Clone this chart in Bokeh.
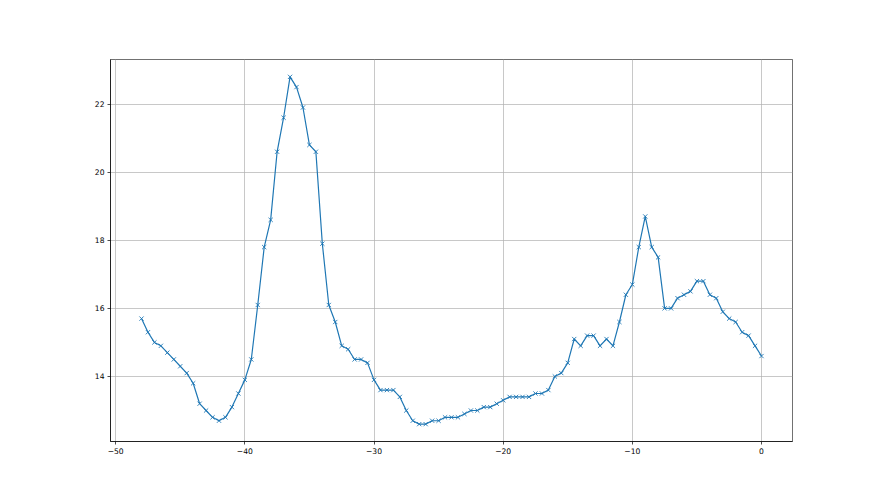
from bokeh.plotting import figure
from bokeh.embed import file_html
from bokeh.resources import INLINE
from bokeh.models import FixedTicker, CustomJSTickFormatter, Range1d, ColumnDataSource

x_start = -48.0
x_step = 0.5
values = [
    15.7, 15.3, 15.0, 14.9, 14.7, 14.5, 14.3, 14.1, 13.8, 13.2,
    13.0, 12.8, 12.7, 12.8, 13.1, 13.5, 13.9, 14.5, 16.1, 17.8,
    18.6, 20.6, 21.6, 22.8, 22.5, 21.9, 20.8, 20.6, 17.9, 16.1,
    15.6, 14.9, 14.8, 14.5, 14.5, 14.4, 13.9, 13.6, 13.6, 13.6,
    13.4, 13.0, 12.7, 12.6, 12.6, 12.7, 12.7, 12.8, 12.8, 12.8,
    12.9, 13.0, 13.0, 13.1, 13.1, 13.2, 13.3, 13.4, 13.4, 13.4,
    13.4, 13.5, 13.5, 13.6, 14.0, 14.1, 14.4, 15.1, 14.9, 15.2,
    15.2, 14.9, 15.1, 14.9, 15.6, 16.4, 16.7, 17.8, 18.7, 17.8,
    17.5, 16.0, 16.0, 16.3, 16.4, 16.5, 16.8, 16.8, 16.4, 16.3,
    15.9, 15.7, 15.6, 15.3, 15.2, 14.9, 14.6,
]
xs = [x_start + i * x_step for i in range(len(values))]
x_ticks = [-50, -40, -30, -20, -10, 0]
y_ticks = [14, 16, 18, 20, 22]

src = ColumnDataSource(dict(x=xs, y=values))

xmin, xmax = min(xs), max(xs)
ymin, ymax = min(values), max(values)
xm = (xmax - xmin) * 0.05
ym = (ymax - ymin) * 0.05

p = figure(
    output_backend="svg", toolbar_location=None,
    frame_width=682, frame_height=382,
    min_border_left=110, min_border_right=80, min_border_top=59, min_border_bottom=46,
    x_range=Range1d(xmin - xm, xmax + xm), y_range=Range1d(ymin - ym, ymax + ym),
    background_fill_color="white", border_fill_color="white",
)
p.outline_line_color = "black"
p.outline_line_width = 0.7
p.outline_line_alpha = 0.8

p.line("x", "y", source=src, line_color="#1f77b4", line_width=1.2)
p.scatter("x", "y", source=src, marker="x", size=6, line_color="#1f77b4", line_width=0.9)

fmt = CustomJSTickFormatter(code="return tick < 0 ? '\\u2212' + Math.abs(tick) : tick.toString();")
for ax, ticks in ((p.xaxis[0], x_ticks), (p.yaxis[0], y_ticks)):
    ax.ticker = FixedTicker(ticks=ticks)
    ax.minor_tick_line_color = None
    ax.major_tick_in = 0
    ax.major_tick_out = 3
    ax.major_tick_line_width = 0.7
    ax.axis_line_width = 0.7
    ax.axis_line_color = "black"
    ax.major_tick_line_color = "black"
    ax.major_label_text_font = "DejaVu Sans"
    ax.major_label_text_font_size = "7.6px"
    ax.major_label_text_color = "black"
    ax.major_label_standoff = 3
    ax.formatter = fmt

p.grid.grid_line_color = "#b0b0b0"
p.grid.grid_line_width = 0.7
p.xgrid.ticker = FixedTicker(ticks=x_ticks)
p.ygrid.ticker = FixedTicker(ticks=y_ticks)

open("out.html", "w").write(file_html(p, INLINE))
